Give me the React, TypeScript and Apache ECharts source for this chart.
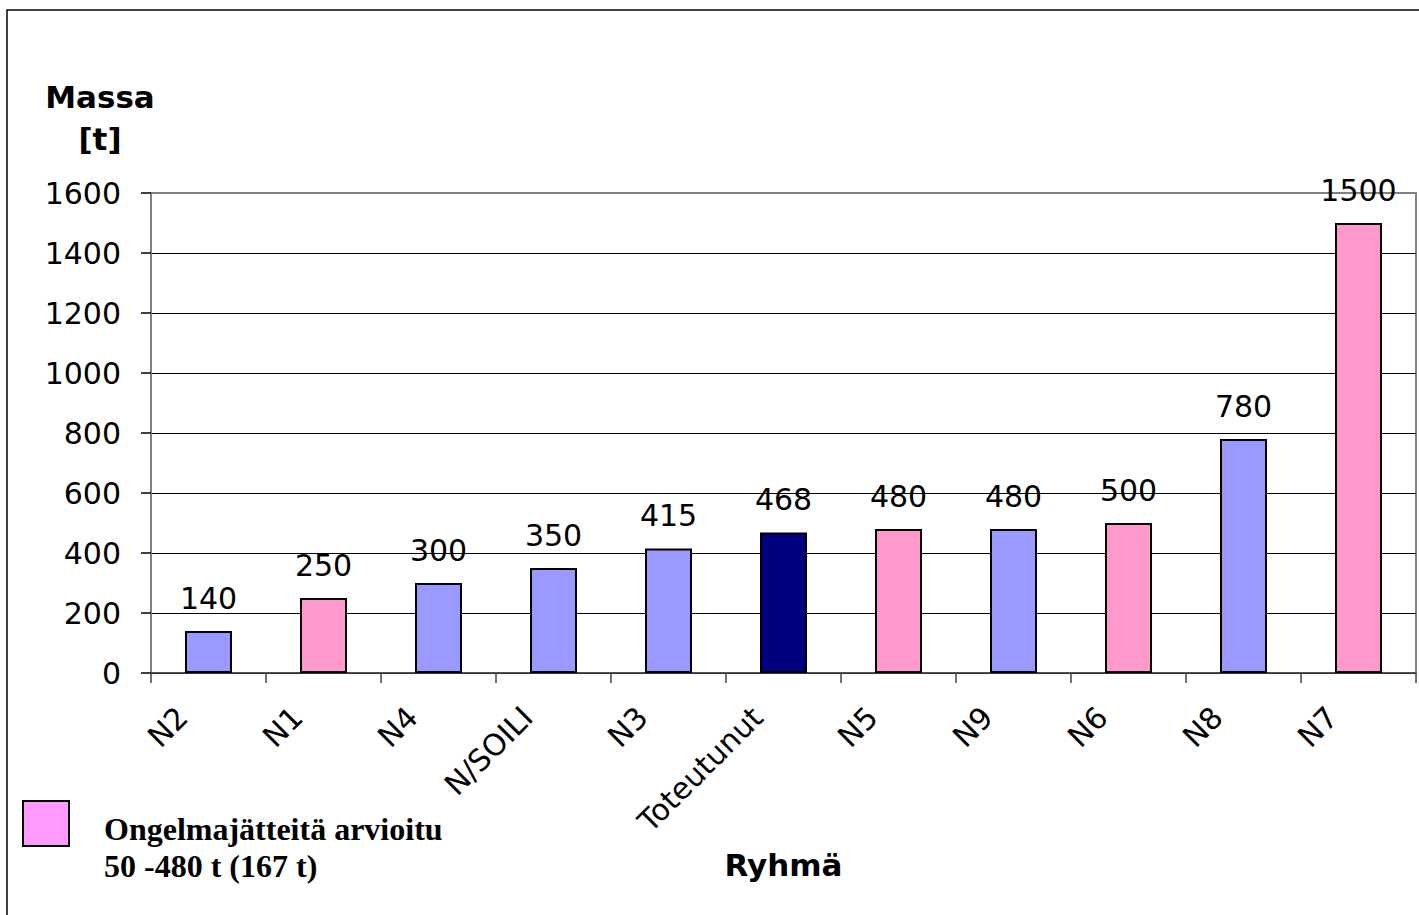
import React, { useEffect, useRef } from "react";
import * as echarts from "echarts";

const categories = ["N2", "N1", "N4", "N/SOILI", "N3", "Toteutunut", "N5", "N9", "N6", "N8", "N7"];
const values = [140, 250, 300, 350, 415, 468, 480, 480, 500, 780, 1500];
// group of each bar: "est" = estimated (lavender), "haz" = hazardous waste estimated (pink), "real" = realised (navy)
const groups = ["est", "haz", "est", "est", "est", "real", "haz", "est", "haz", "est", "haz"];
const groupColors: Record<string, string> = { est: "#9999FF", haz: "#FF99CC", real: "#000080" };
const yTicks = { min: 0, max: 1600, interval: 200 };
const yName = "Massa\n[t]";
const xName = "Ryhmä";
const noteLines = ["Ongelmajätteitä arvioitu", "50 -480 t (167 t)"];

export default function App() {
  const ref = useRef<HTMLDivElement>(null);
  useEffect(() => {
    if (!ref.current) return;
    const chart = echarts.init(ref.current, null, { renderer: "svg" });
    const sans = "DejaVu Sans";
    chart.setOption({
      animation: false,
      backgroundColor: "#ffffff",
      grid: {
        left: 151,
        top: 193,
        right: 3,
        bottom: 242,
        containLabel: false,
        show: true,
        borderColor: "#808080",
        borderWidth: 2,
        backgroundColor: "transparent",
      },
      xAxis: {
        type: "category",
        data: categories,
        name: xName,
        nameLocation: "middle",
        nameGap: 176,
        nameTextStyle: { fontFamily: sans, fontWeight: "bold", fontSize: 31, color: "#000" },
        axisLine: { show: true, lineStyle: { color: "#444", width: 1.5 } },
        axisTick: { show: true, length: 10, lineStyle: { color: "#444", width: 1.5 } },
        axisLabel: {
          rotate: 45,
          interval: 0,
          margin: 13,
          padding: [0, 37, 0, 0],
          fontFamily: sans,
          fontSize: 30,
          color: "#000",
        },
      },
      yAxis: {
        type: "value",
        min: yTicks.min,
        max: yTicks.max,
        interval: yTicks.interval,
        axisLine: { show: true, lineStyle: { color: "#808080", width: 2 } },
        axisTick: { show: true, length: 10, lineStyle: { color: "#000", width: 1.5 } },
        axisLabel: {
          margin: 30,
          fontFamily: sans,
          fontSize: 30,
          color: "#000",
          formatter: (v: number) => String(v),
        },
        splitLine: { show: true, showMaxLine: false, lineStyle: { color: "#000", width: 1 } },
      },
      series: [
        {
          type: "bar",
          barWidth: 47,
          data: values.map((v, i) => ({
            value: v,
            itemStyle: { color: groupColors[groups[i]], borderColor: "#000", borderWidth: 2 },
          })),
          label: {
            show: true,
            position: "top",
            distance: 18,
            fontFamily: sans,
            fontSize: 30,
            color: "#000",
          },
        },
      ],
      graphic: [
        {
          type: "rect",
          shape: { x: 7, y: 10, width: 1440, height: 940 },
          style: { fill: "none", stroke: "#000", lineWidth: 1.5 },
          silent: true,
          z: -10,
        },
        {
          type: "text",
          x: 100,
          y: 76,
          style: {
            text: yName,
            align: "center",
            verticalAlign: "top",
            font: "bold 31px 'DejaVu Sans'",
            lineHeight: 42,
            fill: "#000",
          },
        },
        {
          type: "rect",
          shape: { x: 23, y: 801, width: 46, height: 45 },
          style: { fill: "#FF99FF", stroke: "#000", lineWidth: 2 },
        },
        {
          type: "text",
          x: 104,
          y: 810,
          style: {
            text: noteLines.join("\n"),
            align: "left",
            verticalAlign: "top",
            font: "bold 32px 'Liberation Serif'",
            lineHeight: 37,
            fill: "#000",
          },
        },
      ],
    });
    return () => chart.dispose();
  }, []);
  return (
    <div
      ref={ref}
      style={{ position: "fixed", left: 0, top: 0, width: 1419, height: 915, background: "#fff" }}
    />
  );
}
